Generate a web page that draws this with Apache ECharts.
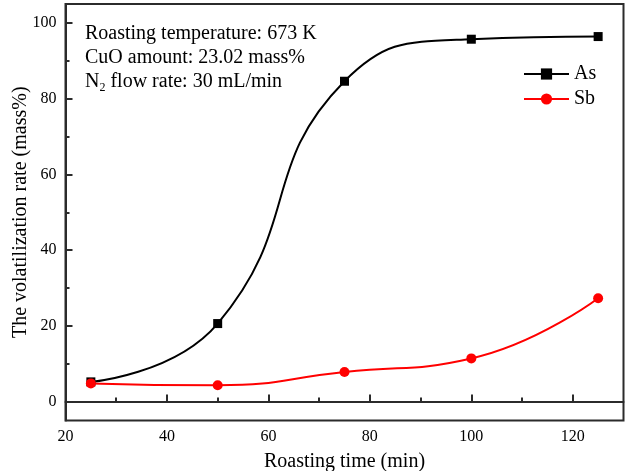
<!DOCTYPE html>
<html>
<head>
<meta charset="utf-8">
<script src="https://cdn.jsdelivr.net/npm/echarts@6/dist/echarts.min.js"></script>
<style>html,body{margin:0;padding:0;background:#fff}#c{width:625px;height:471px}</style>
</head>
<body>
<div id="c"></div>
<script>
var times = [25, 50, 75, 100, 125];
var asValues = [5.2, 20.6, 84.6, 95.7, 96.4];
var sbValues = [4.8, 4.3, 7.8, 11.4, 27.3];
var xTicks = [20, 40, 60, 80, 100, 120];
var xMinorTicks = [30, 50, 70, 90, 110];
var yTicks = [0, 20, 40, 60, 80, 100];
var yMinorTicks = [10, 30, 50, 70, 90];
var seriesNames = ['As', 'Sb'];
var noteLines = ['Roasting temperature: 673 K', 'CuO amount: 23.02 mass%', 'flow rate: 30 mL/min'];

var FONT = '"Liberation Serif", "Times New Roman", serif';
var AX = '#2b2b2b';
var chart = echarts.init(document.getElementById('c'), null, {renderer: 'canvas'});

function pairs(xs, ys) { return xs.map(function (x, i) { return [x, ys[i]]; }); }

var gridPos = {left: 65.5, right: 1.5, top: 4, bottom: 50.5};

chart.setOption({
  animation: false,
  backgroundColor: '#fff',
  grid: Object.assign({show: true, borderColor: AX, borderWidth: 2, backgroundColor: 'transparent',
    containLabel: false, outerBoundsMode: 'none'}, gridPos),
  legend: {
    data: seriesNames,
    orient: 'vertical',
    left: 518,
    top: 59,
    itemWidth: 45,
    itemHeight: 14,
    itemGap: 5,
    textStyle: {fontFamily: FONT, fontSize: 20, color: '#000'}
  },
  xAxis: [{
    type: 'value', min: 20, max: 130,
    name: 'Roasting time (min)', nameLocation: 'middle', nameGap: 31, nameMoveOverlap: false,
    nameTextStyle: {fontFamily: FONT, fontSize: 20, color: '#000'},
    axisLine: {show: true, lineStyle: {color: AX, width: 2}},
    axisTick: {show: true, inside: true, length: 7, lineStyle: {color: AX, width: 2}, customValues: xTicks},
    axisLabel: {fontFamily: FONT, fontSize: 16, color: '#000', margin: 8, customValues: xTicks},
    splitLine: {show: false}
  }, {
    type: 'value', min: 20, max: 130, position: 'bottom',
    axisLine: {show: false},
    axisTick: {show: true, inside: true, length: 4, lineStyle: {color: AX, width: 2}, customValues: xMinorTicks},
    axisLabel: {show: false},
    splitLine: {show: false}
  }],
  yAxis: [{
    type: 'value', min: -5, max: 105,
    name: 'The volatilization rate (mass%)', nameLocation: 'middle', nameGap: 35, nameMoveOverlap: false,
    nameTextStyle: {fontFamily: FONT, fontSize: 20, color: '#000'},
    axisLine: {show: true, lineStyle: {color: AX, width: 2}},
    axisTick: {show: true, inside: true, length: 7, lineStyle: {color: AX, width: 2}, customValues: yTicks},
    axisLabel: {fontFamily: FONT, fontSize: 16, color: '#000', margin: 9, customValues: yTicks},
    splitLine: {show: false}
  }, {
    type: 'value', min: -5, max: 105, position: 'left',
    axisLine: {show: false},
    axisTick: {show: true, inside: true, length: 4, lineStyle: {color: AX, width: 2}, customValues: yMinorTicks},
    axisLabel: {show: false},
    splitLine: {show: false}
  }],
  graphic: [{
    type: 'text', left: 85, top: 22,
    style: {
      text: noteLines[0] + '\n' + noteLines[1] + '\n{n|N}{s|2}{n| ' + noteLines[2] + '}',
      fontFamily: FONT, fontSize: 20, lineHeight: 24, fill: '#000',
      rich: {
        n: {fontFamily: FONT, fontSize: 20, lineHeight: 24, fill: '#000'},
        s: {fontFamily: FONT, fontSize: 12, lineHeight: 24, fill: '#000', verticalAlign: 'bottom', padding: [10, 0, 0, 0]}
      }
    }
  }],
  series: [{
    name: seriesNames[0], type: 'line', smooth: 0.5,
    data: pairs(times, asValues),
    symbol: 'rect', symbolSize: 9,
    itemStyle: {color: '#000'},
    lineStyle: {color: '#000', width: 2}
  }, {
    name: seriesNames[1], type: 'line', smooth: 0.5,
    data: pairs(times, sbValues),
    symbol: 'circle', symbolSize: 10,
    itemStyle: {color: '#ff0000'},
    lineStyle: {color: '#ff0000', width: 2}
  }]
});
</script>
</body>
</html>
